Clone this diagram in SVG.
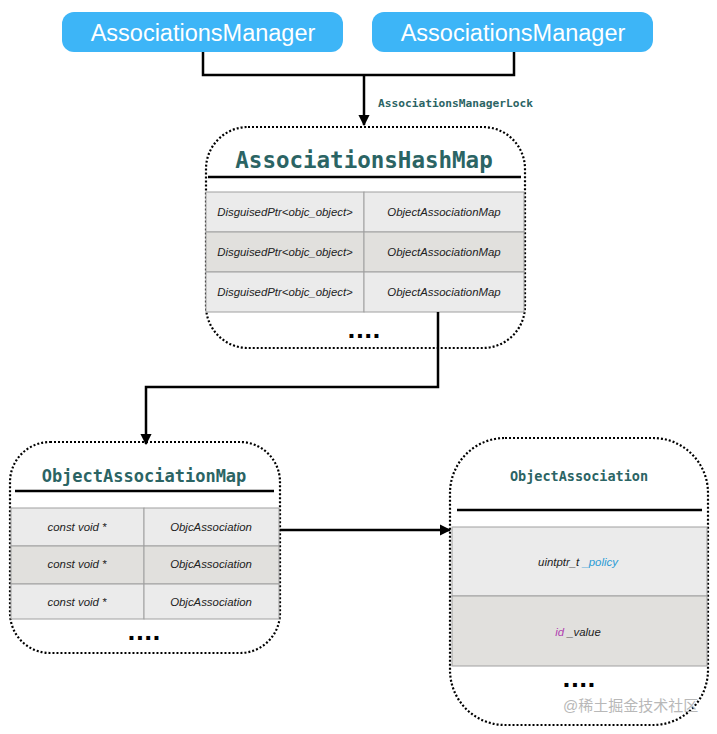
<svg xmlns="http://www.w3.org/2000/svg" width="717" height="734" viewBox="0 0 717 734">
<style>
.mgr{fill:#3db5f7}
.mgrt{fill:#fff;font-family:"Liberation Sans",Arial,sans-serif;font-size:23.5px;text-anchor:middle}
.box{fill:#fff;stroke:#000;stroke-width:2.2;stroke-dasharray:2 2}
.title{fill:#2b6464;font-family:"DejaVu Sans Mono",monospace;font-weight:bold;text-anchor:middle}
.ul{stroke:#000;stroke-width:2.5}
.r1{fill:#ebebeb;stroke:#a0a0a0;stroke-width:1}
.r2{fill:#e1e0dd;stroke:#a0a0a0;stroke-width:1}
.cell{fill:#222;font-family:"Liberation Sans",Arial,sans-serif;font-style:italic;font-size:11.4px;text-anchor:middle}
.dots{fill:#000;font-family:"DejaVu Sans",sans-serif;font-weight:bold;font-size:22px;text-anchor:middle}
.conn{fill:none;stroke:#000;stroke-width:2.5}
</style>
<defs>
<marker id="arr" viewBox="0 0 10 10" refX="9" refY="5" markerWidth="4.5" markerHeight="4.5" orient="auto" markerUnits="strokeWidth">
<path d="M0,0 L10,5 L0,10 z" fill="#000"/>
</marker>
</defs>
<rect width="717" height="734" fill="#fff"/>

<g id="mgr1">
<rect class="mgr" x="62" y="12" width="281" height="40" rx="12"/>
<text class="mgrt" x="203" y="41">AssociationsManager</text>
</g>
<g id="mgr2">
<rect class="mgr" x="372" y="12" width="281" height="40" rx="12"/>
<text class="mgrt" x="513" y="41">AssociationsManager</text>
</g>

<g id="hashmap">
<rect class="box" x="206" y="127" width="319" height="221" rx="42"/>
<text class="title" x="364" y="168" font-size="22.5">AssociationsHashMap</text>
<line class="ul" x1="208" y1="177" x2="521" y2="177"/>
<rect class="r1" x="206" y="192" width="158" height="40"/>
<rect class="r1" x="364" y="192" width="160" height="40"/>
<rect class="r2" x="206" y="232" width="158" height="40"/>
<rect class="r2" x="364" y="232" width="160" height="40"/>
<rect class="r1" x="206" y="272" width="158" height="40"/>
<rect class="r1" x="364" y="272" width="160" height="40"/>
<text class="cell" x="285" y="216">DisguisedPtr&lt;objc_object&gt;</text>
<text class="cell" x="444" y="216">ObjectAssociationMap</text>
<text class="cell" x="285" y="256">DisguisedPtr&lt;objc_object&gt;</text>
<text class="cell" x="444" y="256">ObjectAssociationMap</text>
<text class="cell" x="285" y="296">DisguisedPtr&lt;objc_object&gt;</text>
<text class="cell" x="444" y="296">ObjectAssociationMap</text>
<text class="dots" x="364" y="338">....</text>
</g>

<g id="objmap">
<rect class="box" x="10" y="442" width="270" height="211" rx="40"/>
<text class="title" x="144" y="482" font-size="17">ObjectAssociationMap</text>
<line class="ul" x1="15" y1="491" x2="274" y2="491"/>
<rect class="r1" x="11" y="508" width="133" height="38"/>
<rect class="r1" x="144" y="508" width="135" height="38"/>
<rect class="r2" x="11" y="546" width="133" height="38"/>
<rect class="r2" x="144" y="546" width="135" height="38"/>
<rect class="r1" x="11" y="584" width="133" height="35"/>
<rect class="r1" x="144" y="584" width="135" height="35"/>
<text class="cell" x="77" y="531">const void *</text>
<text class="cell" x="211" y="531">ObjcAssociation</text>
<text class="cell" x="77" y="568">const void *</text>
<text class="cell" x="211" y="568">ObjcAssociation</text>
<text class="cell" x="77" y="606">const void *</text>
<text class="cell" x="211" y="606">ObjcAssociation</text>
<text class="dots" x="144" y="640">....</text>
</g>

<g id="objassoc">
<rect class="box" x="450" y="438" width="258" height="287" rx="55"/>
<text class="title" x="579" y="481" font-size="13.5">ObjectAssociation</text>
<line class="ul" x1="457" y1="510" x2="702" y2="510"/>
<rect class="r1" x="452" y="527" width="255" height="69"/>
<rect class="r2" x="452" y="596" width="255" height="70"/>
<text class="cell" x="578" y="566">uintptr_t <tspan fill="#2a9bd6">_policy</tspan></text>
<text class="cell" x="578" y="636"><tspan fill="#b040b0">id</tspan> _value</text>
<text class="dots" x="579" y="687">....</text>
</g>

<g id="connectors">
<polyline class="conn" points="203,52 203,75 514,75 514,52"/>
<line class="conn" x1="364" y1="75" x2="364" y2="125" marker-end="url(#arr)"/>
<text x="378" y="107" fill="#2b6464" font-family="'DejaVu Sans Mono',monospace" font-weight="bold" font-size="11.2">AssociationsManagerLock</text>
<polyline class="conn" points="438,312 438,387 146,387 146,444" marker-end="url(#arr)"/>
<line class="conn" x1="280" y1="530" x2="450" y2="530" marker-end="url(#arr)"/>
</g>

<text x="563" y="711" fill="#b8b8b8" font-family="'Liberation Sans','Noto Sans CJK SC',sans-serif" font-size="15">@稀土掘金技术社区</text>
</svg>
